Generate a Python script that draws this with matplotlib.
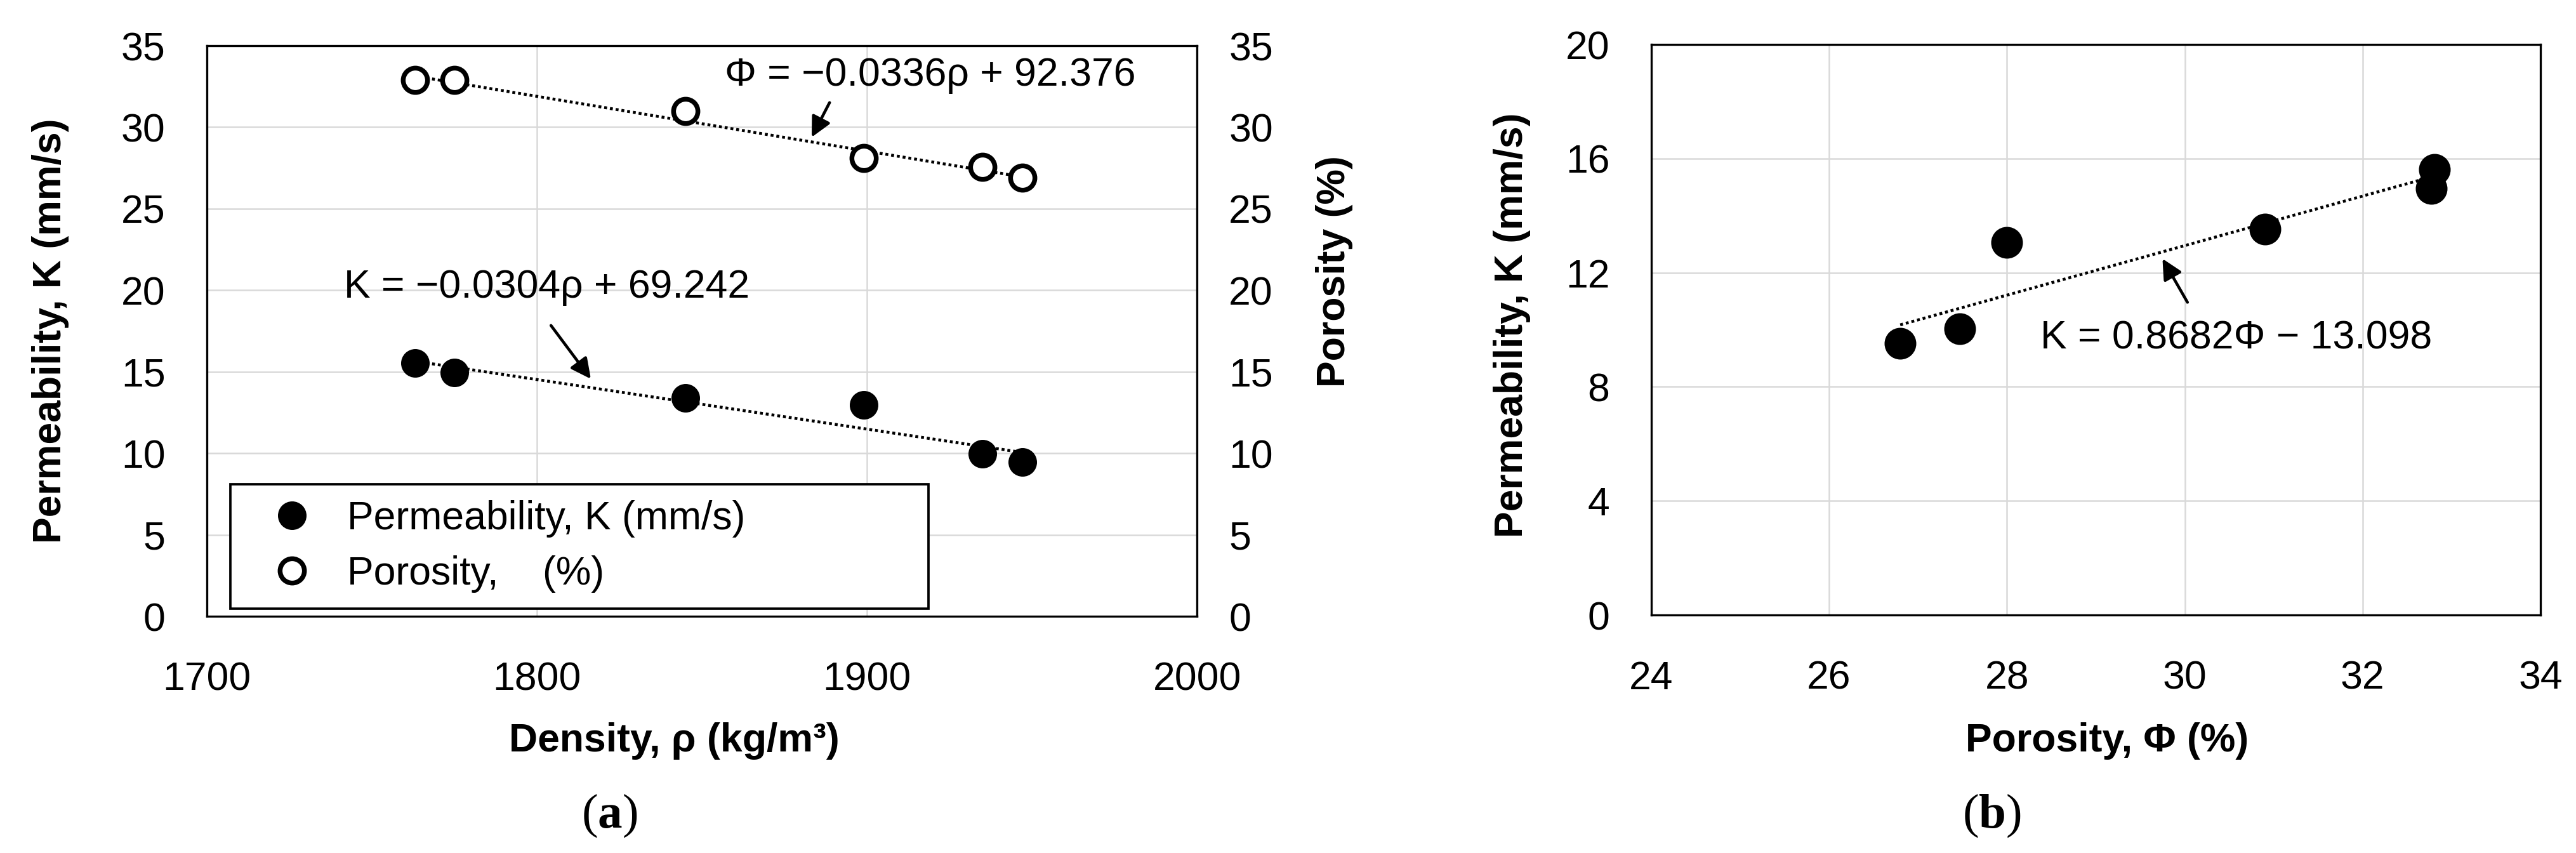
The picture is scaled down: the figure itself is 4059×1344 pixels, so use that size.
import matplotlib

matplotlib.use("Agg")
import matplotlib.pyplot as plt
from matplotlib.lines import Line2D

plt.rcParams["font.family"] = ["Liberation Sans", "DejaVu Sans"]
plt.rcParams["mathtext.fontset"] = "custom"
plt.rcParams["mathtext.bf"] = "Liberation Serif:bold"
plt.rcParams["mathtext.rm"] = "Liberation Serif"

# 密度と透水係数・空隙率
density = [1763, 1775, 1845, 1899, 1935, 1947]
permeability = [15.55, 14.95, 13.4, 12.95, 9.95, 9.45]
porosity = [32.9, 32.9, 31.0, 28.1, 27.55, 26.9]

# (b) 空隙率 vs 透水係数
porosity_b = [26.8, 27.47, 28.0, 30.9, 32.77, 32.81]
permeability_b = [9.52, 10.04, 13.05, 13.52, 14.95, 15.62]

# 近似直線の係数
k_rho = (-0.0304, 69.242)
phi_rho = (-0.0336, 92.376)
k_phi = (0.8682, -13.098)

xticks_a = [1700, 1800, 1900, 2000]
yticks_a = [0, 5, 10, 15, 20, 25, 30, 35]
xticks_b = [24, 26, 28, 30, 32, 34]
yticks_b = [0, 4, 8, 12, 16, 20]

FS = 15
GRID = "#d9d9d9"


def style_axes(ax):
    ax.set_axisbelow(True)
    ax.grid(True, color=GRID, lw=0.6)
    for s in ax.spines.values():
        s.set_color("black")
        s.set_linewidth(0.8)
    ax.tick_params(axis="y", length=0, pad=15.7, labelsize=FS)
    ax.tick_params(axis="x", length=0, pad=17, labelsize=FS)


def trend(coef, xs):
    x0, x1 = min(xs), max(xs)
    return [x0, x1], [coef[0] * x0 + coef[1], coef[0] * x1 + coef[1]]


fig = plt.figure(figsize=(4059 / 300, 1344 / 300), dpi=300)

# ---- (a)
ax1 = fig.add_axes([0.0803, 0.2775, 0.3844, 0.6689])
style_axes(ax1)
ax1.set_xlim(1700, 2000)
ax1.set_ylim(0, 35)
ax1.set_xticks(xticks_a)
ax1.set_yticks(yticks_a)

ax2 = ax1.twinx()
ax2.set_ylim(0, 35)
ax2.set_yticks(yticks_a)
ax2.tick_params(axis="y", length=0, pad=12, labelsize=FS)
for s in ax2.spines.values():
    s.set_visible(False)

tx, ty = trend(k_rho, density)
ax1.plot(tx, ty, color="black", lw=1.1, ls=(0, (1, 1)))
ax1.plot(density, permeability, "o", color="black", ms=9.8, mec="black")

tx, ty = trend(phi_rho, density)
ax2.plot(tx, ty, color="black", lw=1.1, ls=(0, (1, 1)))
ax2.plot(density, porosity, "o", mfc="white", mec="black", mew=1.8, ms=9.2)

ax1.text(1802.9, 20.2, "K = \u22120.0304\u03c1 + 69.242", fontsize=FS, ha="center", va="center")
ax1.annotate("", xy=(1817.3, 14.3), xytext=(1803.3, 18.1),
             arrowprops=dict(arrowstyle="-|>", color="black", lw=1.1, mutation_scale=16))
ax2.text(1919.2, 33.2, "\u03a6 = \u22120.0336\u03c1 + 92.376", fontsize=FS, ha="center", va="center")
ax2.annotate("", xy=(1882.5, 29.1), xytext=(1889.4, 31.8),
             arrowprops=dict(arrowstyle="-|>", color="black", lw=1.1, mutation_scale=16))

handles = [
    Line2D([], [], ls="none", marker="o", color="black", ms=9.8),
    Line2D([], [], ls="none", marker="o", mfc="white", mec="black", mew=1.8, ms=9.2),
]
leg = ax2.legend(handles, ["Permeability, K (mm/s)", "Porosity,    (%)"],
                 loc="upper left", bbox_to_anchor=(0.0237, 0.0, 0.705, 0.2314), mode="expand",
                 fontsize=FS, frameon=True, fancybox=False, edgecolor="black", framealpha=1,
                 borderpad=0.4, labelspacing=0.45, handlelength=2.3, handletextpad=0.25,
                 borderaxespad=0)
leg.get_frame().set_linewidth(0.9)

ax1.set_ylabel("Permeability, K (mm/s)", fontsize=FS, fontweight="bold", va="center")
ax1.yaxis.set_label_coords(-0.1577, 0.5)
ax2.set_ylabel("Porosity (%)", fontsize=FS, fontweight="bold", va="center")
ax2.yaxis.set_label_coords(1.1385, 0.604)
ax1.set_xlabel("Density, \u03c1 (kg/m\u00b3)", fontsize=FS, fontweight="bold", va="center")
ax1.xaxis.set_label_coords(0.4718, -0.219)

# ---- (b)
ax3 = fig.add_axes([0.6410, 0.2790, 0.3452, 0.6689])
style_axes(ax3)
ax3.set_xlim(24, 34)
ax3.set_ylim(0, 20)
ax3.set_xticks(xticks_b)
ax3.set_yticks(yticks_b)

tx, ty = trend(k_phi, porosity_b)
ax3.plot(tx, ty, color="black", lw=1.1, ls=(0, (1, 1)))
ax3.plot(porosity_b, permeability_b, "o", color="black", ms=11)

ax3.text(30.58, 9.7, "K = 0.8682\u03a6 \u2212 13.098", fontsize=FS, ha="center", va="center")
ax3.annotate("", xy=(29.72, 12.65), xytext=(30.06, 10.8),
             arrowprops=dict(arrowstyle="-|>", color="black", lw=1.1, mutation_scale=16))

ax3.set_ylabel("Permeability, K (mm/s)", fontsize=FS, fontweight="bold", va="center")
ax3.yaxis.set_label_coords(-0.1563, 0.508)
ax3.set_xlabel("Porosity, \u03a6 (%)", fontsize=FS, fontweight="bold", va="center")
ax3.xaxis.set_label_coords(0.5125, -0.221)

fig.text(0.2365, 0.0439, r"($\mathbf{a}$)", fontsize=18.5, family="Liberation Serif", ha="center", va="center")
fig.text(0.7733, 0.0439, r"($\mathbf{b}$)", fontsize=18.5, family="Liberation Serif", ha="center", va="center")

fig.savefig("out.png", dpi=300)
